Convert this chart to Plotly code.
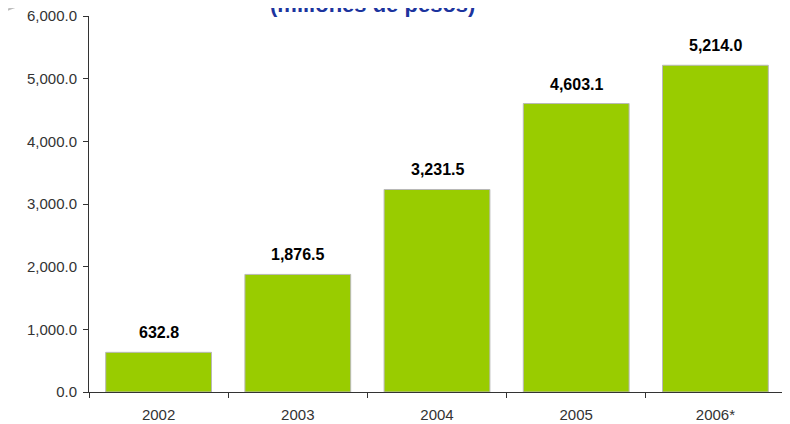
import plotly.graph_objects as go

# Data
years = ["2002", "2003", "2004", "2005", "2006*"]
values = [632.8, 1876.5, 3231.5, 4603.1, 5214.0]
labels = ["632.8", "1,876.5", "3,231.5", "4,603.1", "5,214.0"]

fig = go.Figure()
fig.add_trace(go.Bar(
    x=years,
    y=values,
    width=0.76,
    marker=dict(color="#99CC00", line=dict(color="#B8B8B8", width=1)),
    hoverinfo="skip",
))

# Bold value labels above each bar (x given as category index)
for i, (v, lab) in enumerate(zip(values, labels)):
    fig.add_annotation(
        x=i, y=v, text="<b>" + lab + "</b>", showarrow=False,
        yanchor="bottom", yshift=9,
        font=dict(family="Arial, Liberation Sans", size=16, color="black"),
    )

# Title, cut off at the top of the picture as in the original slide
fig.add_annotation(
    xref="paper", yref="paper", x=0.408, y=1.0, yanchor="middle", yshift=12,
    text="<b>(millones de pesos)</b>", showarrow=False,
    font=dict(family="Arial, Liberation Sans", size=22, color="#1C349E"),
)

# Decorative swoosh in the upper-left corner
fig.add_shape(
    type="path", xref="paper", yref="paper",
    path="M -0.135,1.003 Q -0.102,1.029 -0.062,1.05",
    line=dict(color="#BDBDBD", width=2),
)

# page body has an 8px margin, so margins are shifted by 8px
fig.update_layout(
    width=790, height=424,
    margin=dict(l=81, r=13, t=8, b=40),
    paper_bgcolor="white", plot_bgcolor="white",
    showlegend=False,
    font=dict(family="Arial, Liberation Sans", size=15, color="#333333"),
)
fig.update_xaxes(
    type="category", range=[-0.5, 4.5], automargin=False,
    showline=True, linecolor="#333333", linewidth=1,
    ticks="outside", tickson="boundaries", ticklen=5, tickcolor="#333333",
    ticklabelstandoff=9,
    showgrid=False,
)
fig.update_yaxes(
    range=[0, 6000], dtick=1000, tickformat=",.1f", automargin=False,
    ticklabeloverflow="allow",
    showline=True, linecolor="#333333", linewidth=1,
    ticks="outside", ticklen=5, tickcolor="#333333",
    ticklabelstandoff=3,
    showgrid=False, zeroline=False,
)

fig.write_html("out.html")
